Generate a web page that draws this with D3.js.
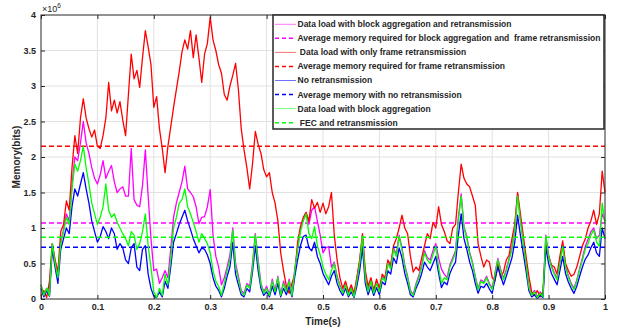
<!DOCTYPE html>
<html>
<head>
<meta charset="utf-8">
<script src="https://cdn.jsdelivr.net/npm/d3@7"></script>
<style>
  body { margin: 0; background: #fff; }
  text { font-family: "Liberation Sans", Arial, sans-serif; font-weight: bold; fill: #262626; }
</style>
</head>
<body>
<div id="chart"></div>
<script>
// memory samples, one every 5 ms, unit = 1e6 bits
let sampleStep = 0.005;

let blockRetx = [
    0.20,0.06,0.15,0.06,0.78,0.52,0.32,0.80,0.98,1.20,
    1.10,1.60,2.00,1.95,2.20,2.50,2.20,2.05,1.85,1.70,
    1.62,1.75,1.95,1.70,1.80,1.88,1.65,1.50,1.55,1.58,
    1.45,1.45,2.12,1.40,1.32,1.30,1.60,2.10,1.45,0.85,
    0.40,0.42,0.22,0.30,0.40,0.30,0.70,1.15,1.35,1.50,
    1.65,1.87,1.55,1.50,1.44,1.30,1.06,1.15,1.16,1.30,
    1.54,0.90,0.60,0.45,0.20,0.30,0.45,0.62,1.00,0.50,
    0.32,0.12,0.08,0.22,0.18,0.50,0.92,0.55,0.22,0.10,
    0.18,0.06,0.28,0.12,0.32,0.06,0.25,0.12,0.28,0.06,
    0.42,0.72,0.98,1.12,1.22,1.05,1.25,1.30,1.10,0.90,
    0.65,0.72,0.74,0.45,0.52,0.32,0.20,0.10,0.22,0.06,
    0.17,0.04,0.28,0.52,0.90,0.33,0.12,0.27,0.10,0.24,
    0.12,0.32,0.28,0.52,0.45,0.72,0.63,0.90,0.72,0.48,
    0.32,0.12,0.06,0.22,0.33,0.48,0.68,0.58,0.55,0.68,
    0.78,0.58,0.42,0.35,0.30,0.48,0.58,0.68,1.15,1.48,
    1.02,0.88,0.66,0.52,0.32,0.15,0.27,0.24,0.32,0.22,
    0.15,0.37,0.57,0.42,0.29,0.42,0.57,0.72,1.00,1.48,
    1.12,0.82,0.52,0.19,0.06,0.12,0.03,0.10,0.04,0.90,
    0.62,0.47,0.37,0.29,0.52,0.76,0.47,0.33,0.22,0.15,
    0.27,0.43,0.58,0.74,0.84,0.95,1.00,0.85,0.90,1.20,
    1.10];

let frameRetx = [
    0.05,0.12,0.02,0.25,0.78,0.55,0.38,0.95,1.05,1.38,
    1.25,1.85,2.30,2.05,2.55,2.82,2.55,2.40,2.28,2.38,
    2.15,2.12,2.30,2.55,3.05,2.65,2.80,2.62,2.78,2.52,
    2.30,2.88,3.45,3.10,3.22,2.98,3.40,3.78,3.55,3.30,
    2.70,2.85,2.40,2.12,1.78,2.15,2.42,2.70,2.95,3.20,
    3.48,3.65,3.52,3.78,3.40,3.72,3.40,3.05,3.45,3.60,
    3.97,3.65,3.50,3.30,3.18,2.88,2.80,3.00,3.15,3.32,
    2.95,2.40,2.10,1.85,1.55,1.90,2.36,2.18,2.05,1.82,
    1.72,1.78,1.50,1.35,1.10,0.65,0.40,0.18,0.08,0.22,
    0.35,0.80,1.02,1.15,1.22,1.10,1.40,1.28,1.36,1.22,
    1.35,1.20,1.30,1.50,0.90,0.55,0.30,0.15,0.25,0.10,
    0.20,0.08,0.30,0.55,0.92,0.40,0.18,0.30,0.12,0.28,
    0.15,0.35,0.30,0.55,0.48,0.75,0.85,1.00,1.18,1.00,
    0.92,0.60,0.38,0.45,0.40,0.58,0.75,0.92,0.85,1.08,
    1.00,1.30,1.05,0.95,0.82,0.78,1.00,1.05,1.50,1.90,
    1.70,1.62,1.58,1.45,1.32,0.78,0.60,0.45,0.55,0.52,
    0.30,0.25,0.50,0.30,0.38,0.55,0.62,0.85,1.05,1.50,
    1.20,0.90,0.60,0.32,0.10,0.05,0.12,0.03,0.10,0.80,
    0.60,0.48,0.45,0.35,0.60,0.82,0.50,0.40,0.32,0.35,
    0.45,0.60,0.75,0.85,1.00,1.10,1.25,1.05,1.20,1.80,
    1.50];

let noRetx = [
    0.15,0.03,0.12,0.04,0.70,0.45,0.22,0.70,0.85,1.00,
    0.92,1.30,1.55,1.45,1.62,1.78,1.55,1.35,1.10,0.95,
    0.80,0.88,1.02,0.95,0.85,1.00,0.92,0.70,0.78,0.72,
    0.55,0.50,0.72,0.78,0.45,0.40,0.70,0.75,0.35,0.15,
    0.04,0.02,0.10,0.03,0.25,0.15,0.45,0.80,0.92,1.05,
    1.15,1.25,1.10,0.98,0.85,0.75,0.65,0.72,0.70,0.62,
    0.50,0.30,0.18,0.12,0.03,0.15,0.32,0.45,0.80,0.35,
    0.20,0.06,0.03,0.15,0.10,0.38,0.75,0.40,0.15,0.05,
    0.10,0.03,0.18,0.06,0.22,0.03,0.15,0.06,0.18,0.03,
    0.32,0.55,0.75,0.88,0.90,0.72,0.68,0.80,0.60,0.50,
    0.36,0.28,0.20,0.32,0.40,0.22,0.12,0.05,0.15,0.03,
    0.10,0.02,0.18,0.40,0.72,0.22,0.06,0.18,0.05,0.16,
    0.06,0.24,0.20,0.40,0.35,0.58,0.50,0.72,0.58,0.36,
    0.22,0.06,0.03,0.15,0.24,0.36,0.52,0.45,0.40,0.50,
    0.60,0.36,0.16,0.24,0.20,0.36,0.45,0.52,0.90,1.20,
    0.85,0.70,0.52,0.40,0.22,0.08,0.18,0.16,0.22,0.14,
    0.08,0.28,0.45,0.32,0.20,0.32,0.45,0.58,0.80,1.18,
    0.90,0.65,0.40,0.12,0.03,0.06,0.01,0.05,0.02,0.72,
    0.50,0.36,0.28,0.20,0.40,0.60,0.36,0.24,0.15,0.08,
    0.18,0.32,0.45,0.56,0.62,0.72,0.80,0.65,0.60,1.00,
    0.85];

let blockAgg = [
    0.20,0.05,0.15,0.05,0.78,0.50,0.30,0.78,0.95,1.15,
    1.05,1.55,1.90,1.80,1.95,2.15,1.85,1.62,1.35,1.20,
    1.05,1.15,1.30,1.62,1.25,1.15,1.20,1.08,1.00,0.92,
    0.85,0.75,0.95,0.90,0.70,0.78,0.95,1.20,0.75,0.45,
    0.10,0.02,0.15,0.05,0.35,0.20,0.55,1.00,1.15,1.35,
    1.40,1.55,1.30,1.20,1.08,0.95,0.80,0.92,0.85,0.78,
    0.65,0.40,0.25,0.18,0.05,0.22,0.40,0.55,0.97,0.45,
    0.28,0.10,0.05,0.20,0.15,0.45,0.90,0.50,0.20,0.08,
    0.15,0.05,0.25,0.10,0.30,0.05,0.22,0.10,0.25,0.05,
    0.40,0.70,0.95,1.10,1.20,0.92,0.85,1.02,0.75,0.62,
    0.45,0.35,0.27,0.40,0.50,0.30,0.18,0.08,0.20,0.05,
    0.15,0.03,0.25,0.50,0.88,0.30,0.10,0.25,0.08,0.22,
    0.10,0.30,0.25,0.50,0.42,0.70,0.60,0.88,0.70,0.45,
    0.30,0.10,0.05,0.20,0.30,0.45,0.65,0.55,0.50,0.62,
    0.74,0.45,0.22,0.30,0.27,0.45,0.55,0.65,1.10,1.45,
    1.00,0.85,0.64,0.50,0.30,0.13,0.25,0.22,0.30,0.20,
    0.13,0.35,0.55,0.40,0.27,0.40,0.55,0.70,0.97,1.45,
    1.10,0.80,0.50,0.17,0.05,0.10,0.02,0.08,0.03,0.88,
    0.60,0.45,0.35,0.27,0.50,0.74,0.45,0.31,0.20,0.13,
    0.25,0.41,0.55,0.70,0.78,0.90,0.97,0.80,0.74,1.35,
    1.06];

// averages (1e6 bits)
let avgBlockRetx = 1.07, avgFrameRetx = 2.15, avgNoRetx = 0.73, avgFec = 0.87;

let legendLabels = [
    "Data load with block aggregation and retransmission",
    "Average memory required for block aggregation and  frame retransmission",
    " Data load with only frame retransmission",
    "Average memory required for frame retransmission",
    "No retransmission",
    "Average memory with no retransmission",
    "Data load with block aggregation",
    " FEC and retransmission"
];

let xTicks = [0,0.1,0.2,0.3,0.4,0.5,0.6,0.7,0.8,0.9,1];
let yTicks = [0,0.5,1,1.5,2,2.5,3,3.5,4];

// draw order follows the legend
let items = [
    {kind:"line", values:blockRetx, color:"#ff00ff"},
    {kind:"avg", value:avgBlockRetx, color:"#ff00ff"},
    {kind:"line", values:frameRetx, color:"#ff0000"},
    {kind:"avg", value:avgFrameRetx, color:"#ff0000"},
    {kind:"line", values:noRetx, color:"#0000ff"},
    {kind:"avg", value:avgNoRetx, color:"#0000ff"},
    {kind:"line", values:blockAgg, color:"#00ff00"},
    {kind:"avg", value:avgFec, color:"#00ff00"}
];

let width = 628, height = 330;
let pLeft = 41, pRight = 605, pTop = 15, pBottom = 299;

let svg = d3.select("#chart").append("svg")
    .attr("width", width)
    .attr("height", height);

let x = d3.scaleLinear().domain([0, 1]).range([pLeft, pRight]);
let y = d3.scaleLinear().domain([0, 4]).range([pBottom, pTop]);

//grid
svg.append("g").selectAll("line")
    .data(xTicks.slice(1, -1)).enter().append("line")
    .attr("x1", d => x(d)).attr("x2", d => x(d))
    .attr("y1", pTop).attr("y2", pBottom)
    .attr("stroke", "#e2e2e2");
svg.append("g").selectAll("line")
    .data(yTicks.slice(1, -1)).enter().append("line")
    .attr("x1", pLeft).attr("x2", pRight)
    .attr("y1", d => y(d)).attr("y2", d => y(d))
    .attr("stroke", "#e2e2e2");

//series
let line = d3.line()
    .x((d, i) => x(i * sampleStep))
    .y(d => y(d));

let plot = svg.append("g");
items.forEach(function (it) {
    if (it.kind == "line") {
        plot.append("path")
            .attr("d", line(it.values))
            .attr("fill", "none")
            .attr("stroke", it.color)
            .attr("stroke-width", 1.3)
            .attr("stroke-linejoin", "round");
    } else {
        plot.append("line")
            .attr("x1", pLeft).attr("x2", pRight)
            .attr("y1", y(it.value)).attr("y2", y(it.value))
            .attr("stroke", it.color)
            .attr("stroke-width", 1.5)
            .attr("stroke-dasharray", "5,3");
    }
});

//axes
function styleAxis(g) {
    g.select(".domain").remove();
    g.selectAll("line").attr("stroke", "#262626");
    g.selectAll("text")
        .attr("font-size", 9)
        .attr("font-family", "Liberation Sans, Arial, sans-serif")
        .attr("font-weight", "bold")
        .attr("fill", "#262626");
}

svg.append("g")
    .attr("transform", "translate(0," + pBottom + ")")
    .call(d3.axisBottom(x).tickValues(xTicks).tickSizeInner(-4).tickSizeOuter(0).tickPadding(5).tickFormat(d3.format("")))
    .call(styleAxis);
svg.append("g")
    .attr("transform", "translate(" + pLeft + ",0)")
    .call(d3.axisLeft(y).tickValues(yTicks).tickSizeInner(-4).tickSizeOuter(0).tickPadding(5).tickFormat(d3.format("")))
    .call(styleAxis);
svg.append("g")
    .attr("transform", "translate(0," + pTop + ")")
    .call(d3.axisTop(x).tickValues(xTicks).tickSizeInner(-4).tickSizeOuter(0).tickFormat(""))
    .call(styleAxis);
svg.append("g")
    .attr("transform", "translate(" + pRight + ",0)")
    .call(d3.axisRight(y).tickValues(yTicks).tickSizeInner(-4).tickSizeOuter(0).tickFormat(""))
    .call(styleAxis);

svg.append("rect")
    .attr("x", pLeft).attr("y", pTop)
    .attr("width", pRight - pLeft).attr("height", pBottom - pTop)
    .attr("fill", "none")
    .attr("stroke", "#262626")
    .attr("stroke-width", 1);

//exponent
let expo = svg.append("text")
    .attr("x", pLeft + 1).attr("y", 12)
    .attr("font-size", 9)
    .style("font-weight", "normal");
expo.append("tspan").text("\u00d710");
expo.append("tspan").attr("font-size", 6.5).attr("dy", -4).text("6");

//axis labels
svg.append("text")
    .attr("x", (pLeft + pRight) / 2).attr("y", 325)
    .attr("text-anchor", "middle")
    .attr("font-size", 10)
    .text("Time(s)");
svg.append("text")
    .attr("transform", "translate(20," + (pTop + pBottom) / 2 + ") rotate(-90)")
    .attr("text-anchor", "middle")
    .attr("font-size", 10)
    .text("Memory(bits)");

//legend
let legend = svg.append("g");
legend.append("rect")
    .attr("x", 273).attr("y", 15)
    .attr("width", 331).attr("height", 114)
    .attr("fill", "#fff")
    .attr("stroke", "#262626")
    .attr("stroke-width", 1.5);

let entry = legend.selectAll(".entry")
    .data(items).enter().append("g")
    .attr("class", "entry")
    .attr("transform", (d, i) => "translate(275," + (24.3 + i * 14.05) + ")");

entry.append("line")
    .attr("x1", 0).attr("x2", 21)
    .attr("stroke", d => d.color)
    .attr("stroke-width", d => d.kind == "avg" ? 1.5 : 0.8)
    .attr("stroke-opacity", d => d.kind == "avg" ? 1 : 0.7)
    .attr("stroke-dasharray", d => d.kind == "avg" ? "4,3" : null);

entry.append("text")
    .attr("x", 22.5)
    .attr("dy", "0.35em")
    .style("font-size", "8.5px")
    .attr("fill", "#111")
    .style("white-space", "pre")
    .text((d, i) => legendLabels[i]);
</script>
</body>
</html>
